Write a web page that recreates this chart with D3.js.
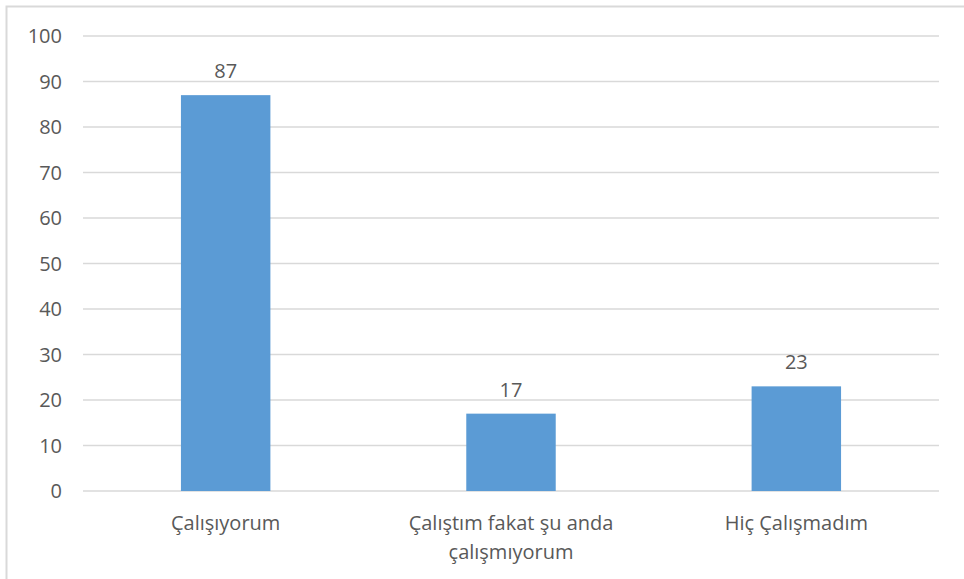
<!DOCTYPE html>
<html><head><meta charset="utf-8">
<script src="https://cdn.jsdelivr.net/npm/d3@7"></script>
<style>
html,body{margin:0;padding:0;background:#fff;}
svg{display:block;}
text{font-family:"Open Sans","Liberation Sans",sans-serif;fill:#595959;}
</style></head>
<body>
<svg id="chart" width="964" height="579"></svg>
<script>
const categories = [["Çalışıyorum"], ["Çalıştım fakat şu anda", "çalışmıyorum"], ["Hiç Çalışmadım"]];
const values = [87, 17, 23];
const yTicks = [0, 10, 20, 30, 40, 50, 60, 70, 80, 90, 100];

(function () {
const svg = d3.select("#chart");
const W = 964, H = 579;
const mLeft = 83, mRight = 939, mTop = 36, mBottom = 491;
const fs = 20;

// chart border (top and left visible)
svg.append("path").attr("d", `M6.5,${H} L6.5,6.5 L${W},6.5`)
  .attr("fill", "none").attr("stroke", "#d9d9d9").attr("stroke-width", 2);

const x = d3.scaleBand().domain(d3.range(categories.length)).range([mLeft, mRight])
  .paddingInner(0.6865).paddingOuter(0.6865 / 2);
const y = d3.scaleLinear().domain([0, 100]).range([mBottom, mTop]);

// gridlines
svg.append("g").selectAll("line").data(yTicks).join("line")
  .attr("x1", mLeft).attr("x2", mRight)
  .attr("y1", d => y(d)).attr("y2", d => y(d))
  .attr("stroke", "#d9d9d9").attr("stroke-width", 1.5);

// y labels
svg.append("g").selectAll("text").data(yTicks).join("text")
  .attr("x", 62).attr("y", d => y(d)).attr("dy", "0.35em")
  .attr("text-anchor", "end").attr("font-size", fs).text(d => d);

// bars
svg.append("g").selectAll("rect").data(values).join("rect")
  .attr("x", (d, i) => x(i)).attr("width", x.bandwidth())
  .attr("y", d => y(d)).attr("height", d => y(0) - y(d))
  .attr("fill", "#5b9bd5");

// value labels
svg.append("g").selectAll("text").data(values).join("text")
  .attr("x", (d, i) => x(i) + x.bandwidth() / 2).attr("y", d => y(d) - 17)
  .attr("text-anchor", "middle").attr("font-size", fs).text(d => d);

// category labels
const cl = svg.append("g").selectAll("text").data(categories).join("text")
  .attr("x", (d, i) => x(i) + x.bandwidth() / 2).attr("y", 530)
  .attr("text-anchor", "middle").attr("font-size", fs);
cl.selectAll("tspan").data(d => d).join("tspan")
  .attr("x", function () { return d3.select(this.parentNode).attr("x"); })
  .attr("dy", (d, i) => i === 0 ? 0 : 29).text(d => d);
})();
</script>
</body></html>
